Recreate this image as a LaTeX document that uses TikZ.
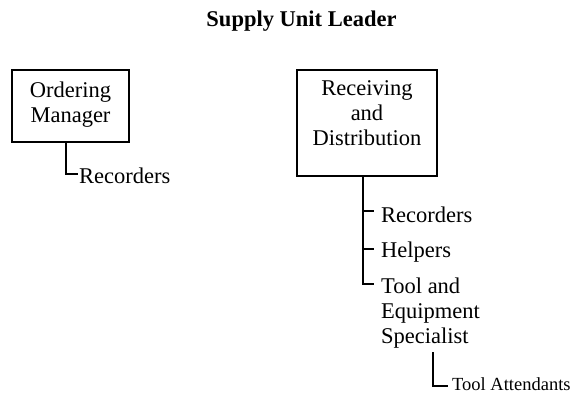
\documentclass[tikz,border=0pt]{standalone}
\usepackage{fontspec}
\setmainfont{Liberation Serif}
\usepackage{tikz}
\usetikzlibrary{positioning,calc}
\newcommand{\bodysize}{\fontsize{22.5}{25}\selectfont}
\newcommand{\attsize}{\fontsize{18.5}{21}\selectfont}
\tikzset{unit/.style={draw, line width=2pt, rectangle, inner sep=0pt}}
\tikzset{boxtext/.style={align=center, inner sep=0pt, font=\bodysize}}
\tikzset{item/.style={anchor=base west, inner sep=0pt, font=\bodysize}}
\tikzset{link/.style={line width=2pt, shorten >=#1}}
\tikzset{link/.default=1pt}
\begin{document}
\begin{tikzpicture}[x=1pt, y=-1pt]
\useasboundingbox (0,0) rectangle (573,393);
%title
\node (sul) at (301.5,27)[anchor=base, inner sep=0pt, font=\bodysize\bfseries]{Supply Unit Leader};
%left part
\node (om) at (70.5,106)[unit, minimum width=117, minimum height=72]{};
\node (omtxt)[boxtext, below=12.5pt of om.north]{Ordering\\Manager};
\node (omrec) at (79,183)[item]{Recorders};
%right part
\node (rd) at (367,123)[unit, minimum width=140, minimum height=106]{};
\node (rdtxt)[boxtext, below=11pt of rd.north]{Receiving\\and\\Distribution};
\coordinate (rdfoot) at ([xshift=-4.5pt]rd.south);
\node (rrec) at (381,222)[item]{Recorders};
\node (rhelp) at (381,257)[item]{Helpers};
\node (tes) at (381,277.6)[anchor=north west, align=left, inner sep=0pt, font=\bodysize]{Tool and\\Equipment\\Specialist};
\node (ta) at (452,390.5)[item, font=\attsize]{Tool Attendants};

\draw[link] ([xshift=-4.8pt]om.south) |- ([yshift=1.5pt]omrec.west);
\draw[link=7pt] (rdfoot) |- ([yshift=-6.5pt]tes.north west);
\draw[link=7pt] ($(rdfoot |- rrec.west)+(0,-3)$) -- ([yshift=3pt]rrec.west);
\draw[link=7pt] ($(rdfoot |- rhelp.west)+(0,-3)$) -- ([yshift=3pt]rhelp.west);
\draw[link=4pt] ([xshift=2.5pt, yshift=-4pt]tes.south) |- ([yshift=-2pt]ta.west);
\end{tikzpicture}
\end{document}
